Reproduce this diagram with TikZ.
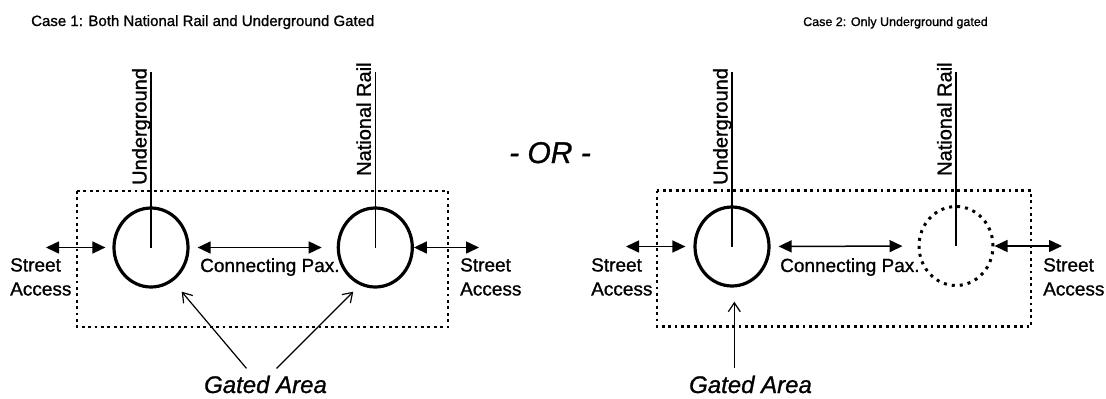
\documentclass[tikz,border=0pt]{standalone}
\usepackage{fontspec}
\setmainfont[FakeBold=1.0]{Liberation Sans}
\usetikzlibrary{%
  shapes.geometric,
  arrows.meta,
  positioning}
\tikzset{
  %% Station circles (gated / not gated)
  station/.style={
    ellipse, draw=black, line width=3.2pt,
    minimum width=74pt, minimum height=79pt, inner sep=0pt},
  opengate/.style={
    station, line width=3pt, dash pattern=on 3pt off 5pt},
  %% Dotted station area
  areabox/.style={draw=black, line width=2.8pt, dash pattern=on 2.8pt off 3.6pt},
  %% Rail lines
  railline/.style={line width=1.6pt},
  %% Labels
  linelabel/.style={rotate=90, anchor=base west, inner sep=0pt,
    font=\fontsize{20}{24}\selectfont},
  flowlabel/.style={anchor=north west, inner sep=0pt, align=left,
    font=\fontsize{19}{24}\selectfont},
  caselabel/.style={anchor=base west, inner sep=0pt,
    font=\fontsize{15}{18}\selectfont},
  gatelabel/.style={anchor=base, inner sep=0pt,
    font=\itshape\fontsize{24}{28}\selectfont},
  %% Arrows
  dblarrow/.style={{Triangle[length=13pt,width=12pt]}-{Triangle[length=13pt,width=12pt]},
    line width=1.5pt},
  gatearrow/.style={-{Straight Barb[length=9pt,width=12pt]}, line width=1.2pt},
}
\begin{document}
\begin{tikzpicture}[x=1pt, y=-1pt]
  \useasboundingbox (0,0) rectangle (1106,399);

  %% Case 1
  \node[caselabel] (t1) at (31,26) {Case 1: Both National Rail and Underground Gated};
  \draw[areabox] (77,191) rectangle (448,327);

  \node[station] (ug1) at (151,247.5) {};
  \node[station] (nr1) at (375.3,247.5) {};
  \coordinate (ug1top) at (151,72);
  \coordinate (nr1top) at (375.3,72);
  \draw[railline] (ug1top) -- (ug1.center);
  \draw[railline] (nr1top) -- (nr1.center);
  \node[linelabel] (ug1lbl) at (146.5,185) {Underground};
  \node[linelabel] (nr1lbl) at (370.8,176) {National Rail};

  \coordinate (sl1) at (46,247.5);
  \coordinate (sr1) at (479,247.5);
  \draw[dblarrow, shorten >=7pt] (sl1) -- (ug1);
  \draw[dblarrow, shorten <=8pt, shorten >=15pt] (ug1) -- (nr1);
  \draw[dblarrow] (nr1) -- (sr1);
  \node[flowlabel] (st1l) at (10,258) {Street\\Access};
  \node[flowlabel] (cp1) at (200,258) {Connecting Pax.};
  \node[flowlabel] (st1r) at (460,258) {Street\\Access};

  \node[gatelabel] (ga1) at (265.5,393) {Gated Area};
  \coordinate (g1a) at (181.7,291.7);
  \coordinate (g1b) at (353.3,291.7);
  \draw[gatearrow] ([xshift=-19pt,yshift=7pt]ga1.north) -- (g1a);
  \draw[gatearrow] ([xshift=11pt,yshift=7pt]ga1.north) -- (g1b);

  %% either/or
  \node[anchor=base, inner sep=0pt, font=\itshape\fontsize{30}{34}\selectfont]
        (or) at (550,163) {- OR -};

  %% Case 2
  \node[caselabel, font=\fontsize{12.5}{15}\selectfont] (t2) at (803,26)
        {Case 2: Only Underground gated};
  \draw[areabox] (657,190.5) rectangle (1031,326.5);

  \node[station] (ug2) at (732,246.5) {};
  \node[opengate] (nr2) at (956,246) {};
  \coordinate (ug2top) at (732,72);
  \coordinate (nr2top) at (956,72);
  \draw[railline] (ug2top) -- (ug2.center);
  \draw[railline] (nr2top) -- (nr2.center);
  \node[linelabel] (ug2lbl) at (727.5,185) {Underground};
  \node[linelabel] (nr2lbl) at (951.5,176) {National Rail};

  \coordinate (sl2) at (626,246.5);
  \coordinate (sr2) at (1062,246);
  \draw[dblarrow, shorten >=8pt] (sl2) -- (ug2);
  \draw[dblarrow, shorten <=8pt, shorten >=15pt] (ug2) -- (nr2);
  \draw[dblarrow] (nr2) -- (sr2);
  \node[flowlabel] (st2l) at (591,258) {Street\\Access};
  \node[flowlabel] (cp2) at (780,258) {Connecting Pax.};
  \node[flowlabel] (st2r) at (1043,258) {Street\\Access};

  \node[gatelabel] (ga2) at (750.5,393) {Gated Area};
  \coordinate (g2a) at (734.3,301.7);
  \draw[gatearrow] ([xshift=-16.2pt,yshift=7pt]ga2.north) -- (g2a);
\end{tikzpicture}
\end{document}
